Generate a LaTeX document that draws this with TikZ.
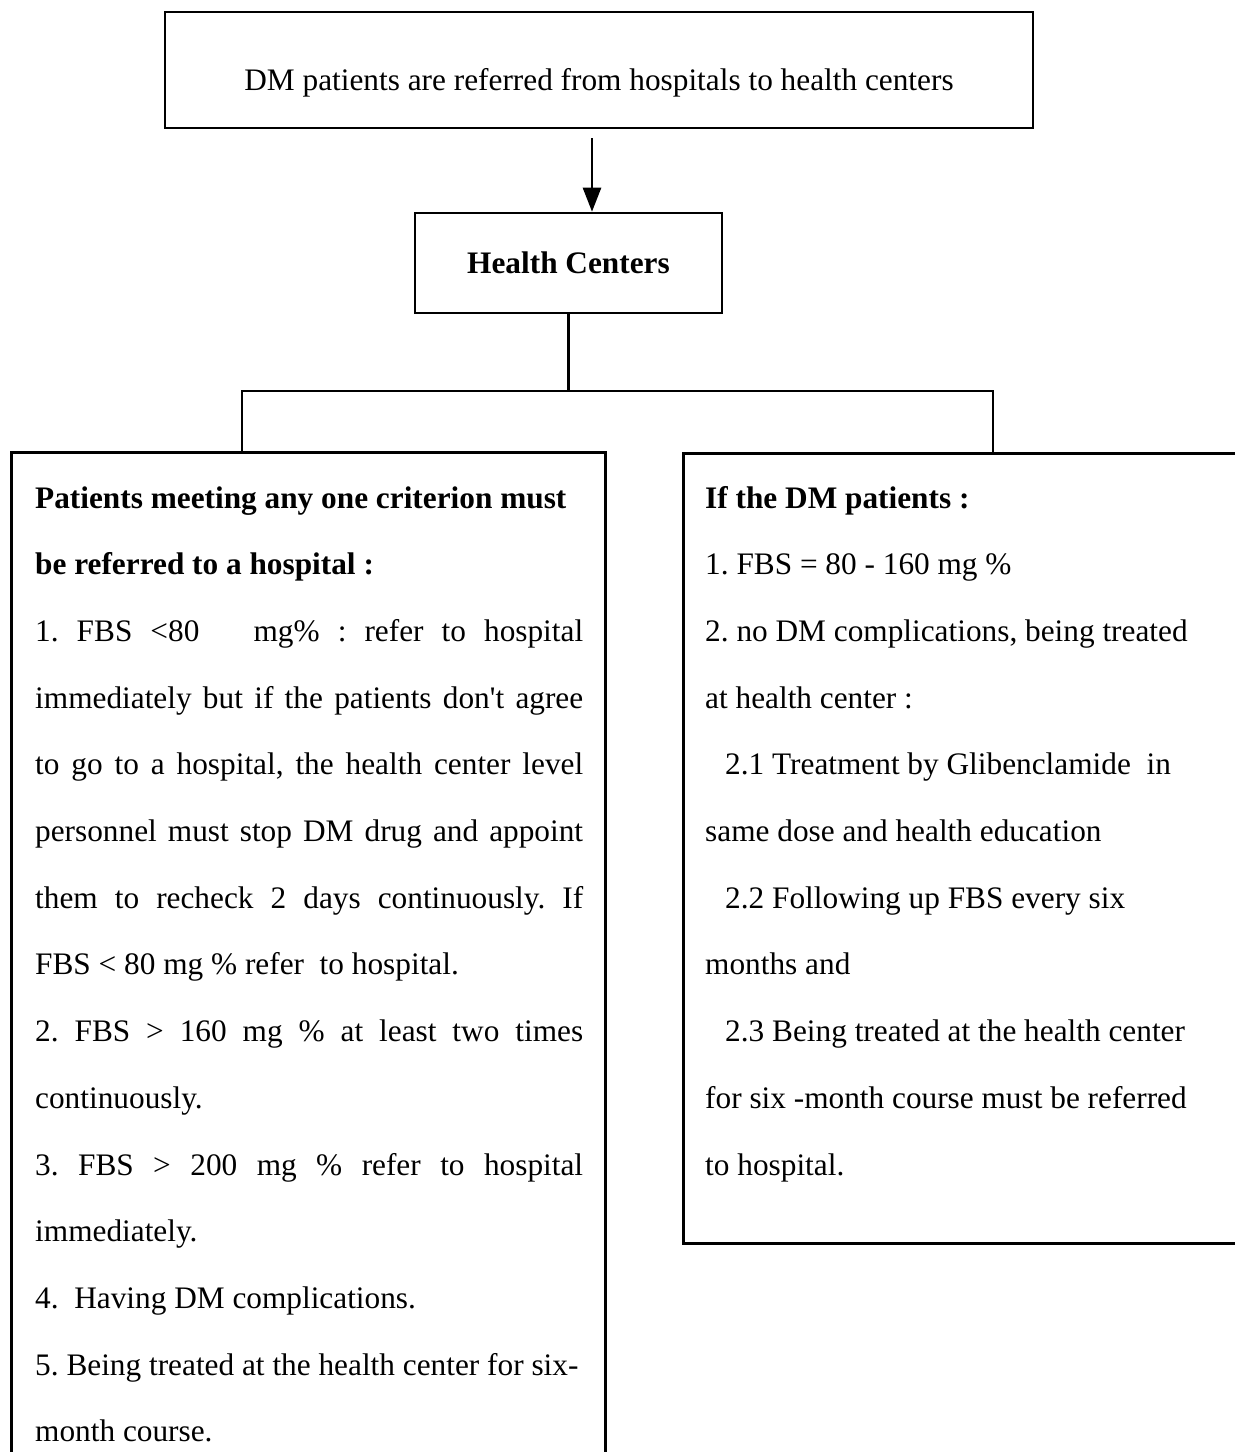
\documentclass[tikz,border=0pt]{standalone}
\usepackage{fontspec}
\setmainfont{Liberation Serif}[Ligatures=TeXOff]
\usetikzlibrary{arrows.meta}
\newcommand\jus[1]{\makebox[548pt][s]{#1}}
\frenchspacing
\begin{document}
\frenchspacing
\begin{tikzpicture}[x=1pt,y=-1pt,
  box/.style={draw, line width=2.6pt, inner sep=0pt, font=\fontsize{31.3}{37.6}\selectfont},
  conn/.style={line width=2.6pt},
  txt/.style={anchor=base west, inner sep=0pt, font=\fontsize{31.3}{37.6}\selectfont}]
\useasboundingbox (0,0) rectangle (1235,1452);
\clip (0,0) rectangle (1235,1452);
\fill[white] (0,0) rectangle (1235,1452);

% boxes
\node[box, minimum width=868pt, minimum height=116pt, text height=40pt, text depth=0pt] (top) at (599,70)
  {DM patients are referred from hospitals to health centers};
\node[box, minimum width=307pt, minimum height=100pt, text height=20pt, text depth=0pt] (hc) at (568.5,263)
  {\textbf{Health Centers}};
\node[box, anchor=north west, minimum width=594pt, minimum height=1040pt] (lbox) at (10,451) {};
\node[box, anchor=north west, minimum width=590pt, minimum height=790pt] (rbox) at (682,452) {};

% connectors
\coordinate (a1) at (592,138);
\draw[conn, -{Triangle[length=24pt,width=18pt]}] (a1) -- (a1 |- hc.north);
\coordinate (sp) at (568.5,391);
\coordinate (spl) at (242,391);
\coordinate (spr) at (993,391);
\draw[conn] (hc.south) -- (sp);
\draw[conn] (spl |- lbox.north) -- (spl) -- (spr) -- (spr |- rbox.north);

% left box text
\foreach \t [count=\i] in {
  {\textbf{Patients meeting any one criterion must}},
  {\textbf{be referred to a hospital :}},
  {\jus{1. FBS <80~~~mg\% : refer to hospital}},
  {\jus{immediately but if the patients don't agree}},
  {\jus{to go to a hospital, the health center level}},
  {\jus{personnel must stop DM drug and appoint}},
  {\jus{them to recheck 2 days continuously. If}},
  {FBS < 80 mg \% refer~ to hospital.},
  {\jus{2. FBS > 160 mg \% at least two times}},
  {continuously.},
  {\jus{3. FBS > 200 mg \% refer to hospital}},
  {immediately.},
  {4.~ Having DM complications.},
  {5. Being treated at the health center for six-},
  {month course.}}
  \node[txt] (L\i) at (35,{508+66.7*(\i-1)}) {\t};

% right box text
\foreach \t [count=\i] in {
  {\textbf{If the DM patients :}},
  {1. FBS = 80 - 160 mg \%},
  {2. no DM complications, being treated},
  {at health center :},
  {\hspace*{20pt}2.1 Treatment by Glibenclamide~ in},
  {same dose and health education},
  {\hspace*{20pt}2.2 Following up FBS every six},
  {months and},
  {\hspace*{20pt}2.3 Being treated at the health center},
  {for six -month course must be referred},
  {to hospital.}}
  \node[txt] (R\i) at (705,{508+66.7*(\i-1)}) {\t};
\end{tikzpicture}
\end{document}
